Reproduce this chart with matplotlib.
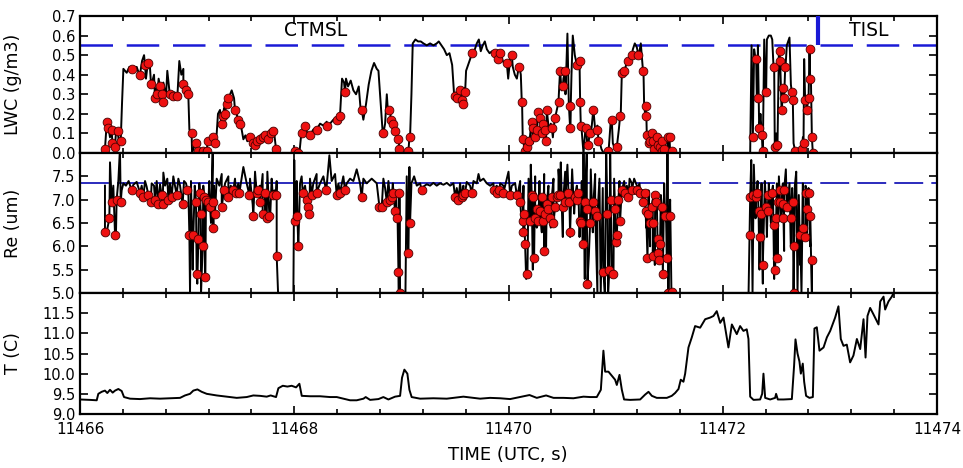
import numpy as np
import matplotlib
matplotlib.use("Agg")
import matplotlib.pyplot as plt
from matplotlib.ticker import MultipleLocator, FormatStrFormatter

plt.rcParams['font.family'] = ['DejaVu Sans']

# ---------------- DATA ----------------
# LWC line (time, g/m3); NaN marks data gaps
lwc_t = [11466.218, 11466.233, 11466.249, 11466.265, 11466.280, 11466.296, 11466.311, 11466.336, 11466.352,
         11466.367, 11466.380, 11466.392, 11466.405, 11466.436, 11466.461, 11466.498, 11466.529, 11466.554,
         11466.579, 11466.598, 11466.616, 11466.635, 11466.653, 11466.672, 11466.691, 11466.710, 11466.734,
         11466.753, 11466.778, 11466.803, 11466.815, 11466.834, 11466.859, 11466.884, 11466.909, 11466.927,
         11466.946, 11466.965, 11466.983, 11467.002, 11467.021, 11467.036, 11467.046, 11467.064, 11467.083,
         11467.105, 11467.136, 11467.167, 11467.192, 11467.220, 11467.245, 11467.260, 11467.276, 11467.288,
         11467.307, 11467.323, 11467.344, 11467.369, 11467.394, 11467.416, 11467.438, 11467.463, 11467.488,
         11467.509, 11467.525, 11467.544, 11467.562, 11467.587, 11467.612, 11467.637, 11467.662, 11467.687,
         11467.712, 11467.736, 11467.761, 11467.786, 11467.811, 11467.836, 11467.855, 11467.920,
         11467.992, 11468.023, 11468.048, 11468.066, 11468.091, 11468.116, 11468.147, 11468.178, 11468.209,
         11468.241, 11468.272, 11468.303, 11468.334, 11468.365, 11468.396, 11468.427, 11468.446, 11468.465,
         11468.483, 11468.502, 11468.527, 11468.552, 11468.577, 11468.602, 11468.620, 11468.645, 11468.670,
         11468.695, 11468.720, 11468.745, 11468.770, 11468.786, 11468.801, 11468.820, 11468.832, 11468.848,
         11468.864, 11468.876, 11468.895, 11468.913, 11468.932, 11468.951, 11468.973, 11468.988, 11469.019,
         11469.057, 11469.075, 11469.094, 11469.106, 11469.131, 11469.156, 11469.181, 11469.206, 11469.237,
         11469.268, 11469.299, 11469.330, 11469.349, 11469.374, 11469.399, 11469.424, 11469.449, 11469.474,
         11469.492, 11469.511, 11469.530, 11469.548, 11469.567, 11469.586, 11469.604, 11469.623, 11469.642,
         11469.661, 11469.686, 11469.704, 11469.723, 11469.741, 11469.760, 11469.779, 11469.798, 11469.823,
         11469.847, 11469.872, 11469.897, 11469.922, 11469.947, 11469.972, 11469.997, 11470.015, 11470.040,
         11470.059, 11470.078, 11470.096, 11470.115, 11470.127, 11470.140, 11470.158, 11470.177, 11470.196,
         11470.214, 11470.227, 11470.246, 11470.264, 11470.283, 11470.302, 11470.320, 11470.339, 11470.358,
         11470.376, 11470.395, 11470.414, 11470.432, 11470.451, 11470.470, 11470.482, 11470.495, 11470.513,
         11470.532, 11470.550, 11470.563, 11470.575, 11470.588, 11470.600, 11470.619, 11470.638, 11470.656,
         11470.669, 11470.681, 11470.700, 11470.718, 11470.737, 11470.756, 11470.774, 11470.793, 11470.812,
         11470.830, 11470.849, 11470.868, 11470.887, 11470.918, 11470.937, 11470.955, 11470.974, 11470.993,
         11471.011, 11471.030, 11471.048, 11471.067, 11471.086, 11471.105, 11471.123, 11471.142, 11471.161,
         11471.179, 11471.198, 11471.217, 11471.235, 11471.254, 11471.266, 11471.279, 11471.291, 11471.310,
         11471.328, 11471.347, 11471.366, 11471.384, 11471.403, 11471.422, 11471.441, 11471.459, 11471.478,
         11471.490, 11471.509, 11471.540, 11471.900,
         11472.241, 11472.256, 11472.269, 11472.281, 11472.293, 11472.306, 11472.318, 11472.328, 11472.340,
         11472.352, 11472.365, 11472.374, 11472.387, 11472.399, 11472.412, 11472.430, 11472.449, 11472.462,
         11472.474, 11472.486, 11472.499, 11472.511, 11472.524, 11472.536, 11472.549, 11472.561, 11472.573,
         11472.586, 11472.598, 11472.611, 11472.623, 11472.636, 11472.648, 11472.661, 11472.679, 11472.698,
         11472.717, 11472.735, 11472.748, 11472.760, 11472.773, 11472.785, 11472.798, 11472.810, 11472.823,
         11472.832, 11472.844]
lwc_v = [0.00, 0.02, 0.15, 0.16, 0.08, 0.13, 0.04, 0.11, 0.10,
         0.04, 0.07, 0.25, 0.43, 0.41, 0.44, 0.42, 0.44, 0.40,
         0.47, 0.50, 0.38, 0.47, 0.44, 0.36, 0.40, 0.33, 0.38,
         0.31, 0.36, 0.29, 0.42, 0.32, 0.30, 0.31, 0.29, 0.47,
         0.40, 0.43, 0.34, 0.32, 0.12, 0.10, 0.00, 0.03, 0.06,
         0.01, 0.02, 0.00, 0.06, 0.08, 0.09, 0.05, 0.10, 0.20,
         0.22, 0.14, 0.23, 0.26, 0.29, 0.32, 0.28, 0.20, 0.16,
         0.12, 0.07, 0.09, 0.06, 0.08, 0.04, 0.07, 0.05, 0.08,
         0.10, 0.07, 0.10, 0.12, 0.11, 0.02, 0.00, np.nan,
         0.00, 0.01, 0.00, 0.10, 0.09, 0.11, 0.08, 0.12, 0.13,
         0.15, 0.14, 0.16, 0.15, 0.17, 0.18, 0.20, 0.38, 0.36,
         0.38, 0.34, 0.37, 0.32, 0.30, 0.34, 0.22, 0.17, 0.25,
         0.35, 0.42, 0.46, 0.43, 0.42, 0.30, 0.14, 0.10, 0.15,
         0.30, 0.20, 0.22, 0.17, 0.14, 0.11, 0.07, 0.02, 0.00,
         0.00, 0.08, 0.30, 0.56, 0.58, 0.57, 0.57, 0.56, 0.55,
         0.56, 0.55, 0.56, 0.57, 0.55, 0.53, 0.50, 0.51, 0.45,
         0.30, 0.31, 0.27, 0.32, 0.26, 0.33, 0.42, 0.45, 0.48,
         0.50, 0.53, 0.56, 0.58, 0.52, 0.55, 0.57, 0.53, 0.51,
         0.52, 0.50, 0.49, 0.48, 0.47, 0.45, 0.38, 0.48, 0.44,
         0.40, 0.38, 0.44, 0.40, 0.25, 0.05, 0.00, 0.03, 0.08,
         0.16, 0.05, 0.14, 0.08, 0.22, 0.10, 0.17, 0.06, 0.23,
         0.12, 0.15, 0.08, 0.18, 0.22, 0.30, 0.43, 0.32, 0.38,
         0.30, 0.61, 0.25, 0.13, 0.40, 0.60, 0.50, 0.45, 0.47,
         0.25, 0.13, 0.00, 0.12, 0.03, 0.10, 0.12, 0.23, 0.10,
         0.14, 0.06, 0.02, 0.00, 0.00, 0.03, 0.17, 0.05, 0.02,
         0.03, 0.12, 0.20, 0.42, 0.43, 0.46, 0.48, 0.51, 0.53,
         0.56, 0.54, 0.50, 0.56, 0.43, 0.25, 0.18, 0.10, 0.05,
         0.10, 0.03, 0.08, 0.02, 0.07, 0.01, 0.05, 0.02, 0.08,
         0.03, 0.00, 0.00, np.nan,
         0.00, 0.00, 0.55, 0.08, 0.53, 0.48, 0.28, 0.55, 0.13,
         0.20, 0.09, 0.00, 0.58, 0.31, 0.58, 0.60, 0.60, 0.58,
         0.44, 0.02, 0.10, 0.03, 0.52, 0.47, 0.22, 0.33, 0.28,
         0.44, 0.55, 0.57, 0.59, 0.35, 0.27, 0.05, 0.00, 0.00,
         0.02, 0.04, 0.08, 0.48, 0.27, 0.22, 0.28, 0.53, 0.38,
         0.08, 0.00]

# LWC sampled points (red markers)
lwc_mt = [11466.233, 11466.255, 11466.265, 11466.296, 11466.302, 11466.327, 11466.352, 11466.380,
          11466.482, 11466.560, 11466.607, 11466.638, 11466.663, 11466.700, 11466.722, 11466.747, 11466.762,
          11466.772, 11466.840, 11466.871, 11466.902, 11466.965, 11466.990, 11467.011, 11467.042, 11467.083,
          11467.105, 11467.151, 11467.183, 11467.192, 11467.239, 11467.260, 11467.323, 11467.338, 11467.354,
          11467.369, 11467.385, 11467.447, 11467.472, 11467.494, 11467.587, 11467.612, 11467.634, 11467.649,
          11467.680, 11467.705, 11467.727, 11467.758, 11467.780, 11467.805, 11467.830, 11468.007, 11468.038,
          11468.069, 11468.101, 11468.147, 11468.209, 11468.303, 11468.396, 11468.427, 11468.474, 11468.630,
          11468.826, 11468.888, 11468.901, 11468.926, 11468.941, 11468.973, 11468.982, 11469.066, 11469.081,
          11469.502, 11469.523, 11469.548, 11469.564, 11469.573, 11469.595, 11469.657, 11469.875, 11469.906,
          11469.922, 11469.984, 11470.031, 11470.102, 11470.124, 11470.133,
          11470.155, 11470.177, 11470.196, 11470.218, 11470.233, 11470.249, 11470.264, 11470.280, 11470.296,
          11470.311, 11470.320, 11470.342, 11470.351, 11470.358, 11470.404, 11470.435, 11470.467, 11470.482,
          11470.507, 11470.529, 11470.575, 11470.576, 11470.638, 11470.663, 11470.669, 11470.675, 11470.725,
          11470.746, 11470.762, 11470.793, 11470.824, 11470.840, 11470.933, 11470.964, 11471.011, 11471.042,
          11471.058, 11471.080, 11471.120, 11471.151, 11471.213, 11471.260, 11471.279, 11471.285, 11471.291,
          11471.316, 11471.322, 11471.338, 11471.353, 11471.360, 11471.384, 11471.400, 11471.410, 11471.431,
          11471.432, 11471.447, 11471.488, 11471.503, 11471.525,
          11472.281, 11472.312, 11472.325, 11472.343, 11472.365, 11472.374, 11472.405, 11472.480, 11472.489,
          11472.511, 11472.530, 11472.536, 11472.552, 11472.561, 11472.573, 11472.583, 11472.645, 11472.654,
          11472.676, 11472.738, 11472.754, 11472.769, 11472.785, 11472.801, 11472.810, 11472.816, 11472.832,
          11472.841]
lwc_mv = [0.02, 0.16, 0.13, 0.12, 0.05, 0.03, 0.11, 0.06,
          0.43, 0.40, 0.45, 0.46, 0.35, 0.28, 0.30, 0.34, 0.30,
          0.26, 0.30, 0.29, 0.29, 0.35, 0.32, 0.30, 0.10, 0.05,
          0.01, 0.01, 0.01, 0.06, 0.08, 0.05, 0.15, 0.19, 0.20,
          0.25, 0.28, 0.22, 0.17, 0.15, 0.08, 0.05, 0.04, 0.06,
          0.07, 0.08, 0.09, 0.07, 0.10, 0.11, 0.02, 0.01, 0.00,
          0.10, 0.14, 0.09, 0.12, 0.14, 0.17, 0.19, 0.31, 0.22,
          0.10, 0.22, 0.17, 0.15, 0.11, 0.07, 0.02, 0.01, 0.08,
          0.29, 0.28, 0.32, 0.27, 0.25, 0.31, 0.51, 0.51, 0.48,
          0.51, 0.46, 0.50, 0.44, 0.26, 0.07,
          0.01, 0.03, 0.06, 0.16, 0.13, 0.08, 0.12, 0.21, 0.18,
          0.10, 0.15, 0.12, 0.06, 0.22, 0.13, 0.18, 0.26, 0.42,
          0.34, 0.42, 0.24, 0.13, 0.45, 0.47, 0.26, 0.14, 0.13,
          0.04, 0.10, 0.22, 0.12, 0.06, 0.01, 0.17, 0.03, 0.19,
          0.41, 0.42, 0.47, 0.50, 0.50, 0.42, 0.19, 0.24, 0.09,
          0.05, 0.06, 0.10, 0.06, 0.02, 0.08, 0.04, 0.03, 0.06,
          0.01, 0.02, 0.08, 0.08, 0.01,
          0.08, 0.48, 0.28, 0.13, 0.09, 0.01, 0.31, 0.44, 0.03,
          0.04, 0.52, 0.47, 0.22, 0.33, 0.28, 0.44, 0.31, 0.27,
          0.01, 0.02, 0.05, 0.27, 0.22, 0.28, 0.53, 0.38, 0.08,
          0.00]

# Re line-only points (um); NaN marks gaps
re_t = [11466.233, 11466.249, 11466.280, 11466.311, 11466.336, 11466.358, 11466.373, 11466.389,
        11466.405, 11466.429, 11466.454, 11466.498, 11466.529, 11466.576, 11466.607, 11466.622, 11466.669,
        11466.691, 11466.716, 11466.747, 11466.778, 11466.794, 11466.815, 11466.840, 11466.871, 11466.887,
        11466.918, 11466.934, 11466.971, 11466.990, 11467.011, 11467.027, 11467.036, 11467.052, 11467.071,
        11467.095, 11467.114, 11467.130, 11467.151, 11467.170, 11467.189, 11467.207, 11467.223, 11467.239,
        11467.251, 11467.276, 11467.301, 11467.323, 11467.354, 11467.385, 11467.407, 11467.447, 11467.478,
        11467.525, 11467.556, 11467.587, 11467.612, 11467.634, 11467.680, 11467.705, 11467.727, 11467.749,
        11467.774, 11467.789, 11467.814, 11467.836, 11467.849, 11467.858, 11467.920,
        11467.992, 11468.000, 11468.010, 11468.023, 11468.038, 11468.054, 11468.069, 11468.101, 11468.147,
        11468.178, 11468.209, 11468.241, 11468.272, 11468.303, 11468.328, 11468.349, 11468.381, 11468.412,
        11468.458, 11468.490, 11468.521, 11468.552, 11468.583, 11468.614, 11468.645, 11468.676, 11468.723,
        11468.770, 11468.832, 11468.848, 11468.879, 11468.901, 11468.920, 11468.951, 11468.963, 11468.976,
        11468.994, 11469.013, 11469.038, 11469.050, 11469.063, 11469.075, 11469.094, 11469.119, 11469.144,
        11469.175, 11469.206, 11469.237, 11469.268, 11469.299, 11469.330, 11469.361, 11469.393, 11469.424,
        11469.455, 11469.486, 11469.517, 11469.548, 11469.579, 11469.610, 11469.641, 11469.673, 11469.704,
        11469.720, 11469.735, 11469.766, 11469.797, 11469.828, 11469.860, 11469.891, 11469.922, 11469.953,
        11469.984, 11470.000, 11470.031, 11470.062, 11470.093, 11470.109, 11470.124, 11470.140, 11470.165,
        11470.187, 11470.208, 11470.227, 11470.249, 11470.264, 11470.289, 11470.311, 11470.333, 11470.351,
        11470.373, 11470.395, 11470.420, 11470.445, 11470.467, 11470.488, 11470.507, 11470.529, 11470.550,
        11470.575, 11470.594, 11470.613, 11470.638, 11470.663, 11470.684, 11470.700, 11470.712, 11470.731,
        11470.750, 11470.768, 11470.787, 11470.809, 11470.830, 11470.849, 11470.861, 11470.880, 11470.899,
        11470.912, 11470.930, 11470.949, 11470.965, 11470.986, 11471.011, 11471.036, 11471.058, 11471.080,
        11471.105, 11471.130, 11471.151, 11471.173, 11471.198, 11471.223, 11471.245, 11471.260, 11471.285,
        11471.307, 11471.322, 11471.347, 11471.366, 11471.385, 11471.403, 11471.422, 11471.441, 11471.453,
        11471.472, 11471.484, 11471.497, 11471.509, 11471.521, 11471.528, 11471.900,
        11472.241, 11472.266, 11472.278, 11472.290, 11472.306, 11472.325, 11472.343, 11472.362, 11472.374,
        11472.393, 11472.412, 11472.430, 11472.449, 11472.468, 11472.480, 11472.505, 11472.524, 11472.542,
        11472.561, 11472.573, 11472.589, 11472.605, 11472.623, 11472.636, 11472.648, 11472.661, 11472.673,
        11472.686, 11472.698, 11472.710, 11472.723, 11472.735, 11472.748, 11472.760, 11472.773, 11472.785,
        11472.801, 11472.816, 11472.832]
re_v = [7.30, 6.30, 7.80, 7.30, 6.30, 7.40, 8.10, 7.20,
        7.35, 7.30, 7.40, 7.32, 7.38, 7.30, 7.40, 7.28, 7.35,
        7.30, 7.40, 7.33, 7.58, 7.30, 7.45, 7.35, 7.50, 7.30,
        7.45, 7.30, 7.40, 7.35, 7.20, 5.00, 7.40, 5.50, 7.30,
        5.20, 7.35, 5.00, 7.30, 5.30, 7.10, 7.40, 6.50, 8.10,
        7.30, 7.45, 7.30, 7.55, 7.35, 7.50, 7.30, 7.45, 7.35,
        7.70, 7.35, 7.45, 6.90, 7.60, 7.30, 7.55, 6.60, 7.60,
        6.55, 7.45, 7.20, 7.40, 5.00, 5.00, np.nan,
        5.00, 7.85, 6.50, 7.40, 6.00, 7.35, 7.50, 7.30, 7.45,
        7.35, 7.55, 7.35, 7.50, 7.30, 7.95, 7.40, 7.55, 7.35,
        7.50, 7.35, 7.45, 7.40, 7.65, 7.35, 7.45, 7.35, 7.45,
        7.35, 7.45, 7.25, 7.40, 7.20, 7.35, 7.20, 6.80, 5.00,
        5.00, 5.00, 5.00, 7.50, 5.85, 7.70, 7.35, 7.50, 7.30,
        7.35, 7.28, 7.33, 7.30, 7.36, 7.30, 7.35, 7.32, 7.36,
        7.30, 7.35, 7.25, 7.35, 7.30, 7.38, 7.30, 7.40, 7.35,
        7.55, 7.40, 7.45, 7.35, 7.30, 7.35, 7.30, 7.35, 7.30,
        7.45, 7.60, 7.30, 7.35, 7.20, 7.40, 6.50, 7.30, 5.30,
        7.45, 7.75, 5.50, 7.50, 6.40, 7.40, 6.30, 7.55, 6.00,
        7.30, 6.40, 7.45, 6.80, 7.65, 7.80, 6.20, 7.60, 7.75,
        6.20, 7.65, 6.70, 7.30, 6.20, 7.40, 8.10, 5.30, 8.10,
        5.80, 7.65, 6.30, 7.55, 5.00, 7.45, 5.00, 7.25, 5.00,
        8.10, 5.00, 8.10, 5.50, 7.45, 6.00, 7.40, 7.25, 7.40,
        7.30, 7.45, 7.35, 7.45, 7.30, 7.35, 7.20, 7.10, 6.40,
        7.20, 6.00, 7.00, 5.60, 6.90, 5.80, 7.10, 5.40, 7.35,
        6.50, 8.10, 5.80, 7.00, 5.00, 5.00, np.nan,
        5.00, 7.85, 5.00, 7.75, 6.60, 7.40, 5.50, 7.35, 5.20,
        7.40, 6.20, 7.35, 6.50, 7.30, 5.30, 7.35, 7.50, 6.60,
        7.35, 5.90, 7.65, 6.90, 7.35, 6.00, 7.25, 5.00, 7.30,
        7.60, 5.00, 7.10, 5.60, 5.00, 7.35, 6.20, 7.30, 6.30,
        7.25, 6.00, 5.00]

# Re sampled points (red markers)
re_mt = [11466.233, 11466.274, 11466.296, 11466.327, 11466.342, 11466.380,
         11466.482, 11466.560, 11466.591, 11466.638, 11466.660, 11466.700, 11466.731, 11466.762, 11466.772,
         11466.825, 11466.856, 11466.902, 11466.958, 11467.002,
         11467.021, 11467.058, 11467.083, 11467.089, 11467.105, 11467.120, 11467.127, 11467.145, 11467.158,
         11467.167, 11467.176, 11467.198, 11467.214, 11467.239, 11467.245, 11467.260, 11467.323,
         11467.344, 11467.385, 11467.431, 11467.456, 11467.488, 11467.581, 11467.618, 11467.649, 11467.665,
         11467.680, 11467.705, 11467.727, 11467.743, 11467.768, 11467.799, 11467.830, 11467.836,
         11468.007, 11468.029, 11468.038, 11468.079, 11468.116, 11468.132, 11468.141, 11468.163, 11468.209,
         11468.297, 11468.396, 11468.427, 11468.474, 11468.630, 11468.795,
         11468.817, 11468.864, 11468.895, 11468.910, 11468.926, 11468.941, 11468.957, 11468.973, 11468.982,
         11468.988, 11469.066, 11469.081, 11469.190, 11469.502, 11469.533, 11469.564, 11469.579, 11469.595,
         11469.657, 11469.860, 11469.891, 11469.915, 11469.953, 11470.015, 11470.077, 11470.109, 11470.133,
         11470.140, 11470.146, 11470.155, 11470.177, 11470.202, 11470.217, 11470.233, 11470.239, 11470.249,
         11470.264, 11470.280, 11470.295, 11470.311, 11470.326, 11470.333, 11470.342, 11470.357, 11470.373,
         11470.388, 11470.404, 11470.420, 11470.435, 11470.451, 11470.466, 11470.482, 11470.507, 11470.529,
         11470.560, 11470.569, 11470.575, 11470.622, 11470.638, 11470.653, 11470.669, 11470.675, 11470.693,
         11470.715, 11470.731, 11470.737, 11470.762, 11470.793, 11470.809, 11470.830, 11470.886, 11470.924,
         11470.942, 11470.955, 11470.980, 11470.995, 11471.005, 11471.011, 11471.026, 11471.042, 11471.058,
         11471.089, 11471.120, 11471.151, 11471.198, 11471.229, 11471.254, 11471.275, 11471.285, 11471.297,
         11471.306, 11471.322, 11471.338, 11471.347, 11471.353, 11471.369, 11471.378, 11471.391, 11471.400,
         11471.409, 11471.415, 11471.431, 11471.440, 11471.462, 11471.478, 11471.493, 11471.503, 11471.525,
         11472.250, 11472.256, 11472.287, 11472.312, 11472.318, 11472.334, 11472.349, 11472.356, 11472.374,
         11472.405, 11472.418, 11472.427, 11472.458, 11472.480, 11472.489, 11472.499, 11472.511, 11472.520,
         11472.530, 11472.536, 11472.561, 11472.567, 11472.573, 11472.598, 11472.636, 11472.654, 11472.661,
         11472.667, 11472.723, 11472.748, 11472.769, 11472.779, 11472.785, 11472.801, 11472.816, 11472.832]
re_mv = [6.30, 6.60, 6.95, 6.25, 7.00, 6.95,
         7.20, 7.15, 7.05, 7.10, 6.95, 7.00, 6.90, 7.10, 6.90,
         7.00, 7.05, 7.10, 6.90, 7.20,
         6.25, 6.25, 6.95, 5.40, 6.15, 7.15, 6.70, 6.00, 7.05,
         5.35, 7.00, 6.95, 6.85, 6.95, 6.40, 6.70, 6.85,
         7.20, 7.05, 7.20, 7.15, 7.15, 7.10, 6.65, 7.15, 7.20,
         6.95, 6.70, 7.15, 6.60, 6.65, 7.10, 7.10, 5.80,
         6.55, 6.65, 6.00, 7.15, 7.00, 6.85, 6.70, 7.10, 7.15,
         7.20, 7.10, 7.15, 7.20, 7.05, 6.85,
         6.85, 6.95, 7.00, 7.05, 7.15, 6.75, 6.60, 5.45, 7.15,
         5.00, 5.85, 6.50, 7.20, 7.05, 7.00, 7.05, 7.10, 7.15,
         7.15, 7.20, 7.15, 7.20, 7.15, 7.10, 7.10, 6.95, 6.55,
         6.30, 6.70, 6.05, 5.40, 6.55, 7.10, 7.05, 5.75, 6.60,
         6.80, 6.55, 6.75, 7.05, 6.55, 5.90, 6.70, 6.90, 6.80,
         6.60, 7.05, 6.50, 6.85, 7.05, 7.10, 7.10, 6.85, 6.95,
         7.15, 6.95, 6.30, 7.05, 7.00, 7.15, 6.55, 6.50, 6.05,
         6.95, 6.80, 5.20, 6.50, 6.95, 6.75, 6.65, 5.45, 6.70,
         5.50, 7.00, 5.40, 6.80, 6.10, 6.25, 7.00, 6.55, 7.20,
         7.15, 7.05, 7.20, 7.20, 7.15, 6.95, 7.15, 6.75, 5.75,
         6.70, 6.50, 6.85, 5.80, 6.50, 7.10, 6.95, 6.15, 5.85,
         5.70, 6.05, 6.85, 5.40, 6.65, 5.75, 5.00, 6.65, 5.02,
         6.25, 7.05, 7.10, 7.05, 7.15, 6.75, 6.20, 6.70, 5.60,
         6.85, 6.75, 7.10, 7.15, 6.45, 5.50, 6.60, 5.75, 6.95,
         7.20, 6.95, 6.90, 6.60, 7.20, 6.85, 6.60, 6.95, 5.00,
         6.00, 6.25, 6.40, 6.20, 7.15, 6.80, 7.15, 6.65, 5.70]

# Temperature (C)
temp_t = [11466.000, 11466.093, 11466.156, 11466.171, 11466.202, 11466.233, 11466.255, 11466.280, 11466.305,
          11466.327, 11466.358, 11466.389, 11466.411, 11466.467, 11466.560, 11466.654, 11466.747, 11466.840,
          11466.934, 11466.980, 11467.027, 11467.058, 11467.096, 11467.136, 11467.183, 11467.276, 11467.369,
          11467.463, 11467.556, 11467.618, 11467.681, 11467.743, 11467.780, 11467.830, 11467.852, 11467.893,
          11467.936, 11467.976, 11468.017, 11468.048, 11468.070, 11468.148, 11468.241, 11468.334, 11468.397,
          11468.459, 11468.521, 11468.583, 11468.646, 11468.667, 11468.708, 11468.786, 11468.832, 11468.879,
          11468.941, 11468.988, 11469.006, 11469.028, 11469.056, 11469.075, 11469.096, 11469.175, 11469.299,
          11469.424, 11469.517, 11469.579, 11469.673, 11469.735, 11469.828, 11469.922, 11470.015, 11470.108,
          11470.196, 11470.264, 11470.351, 11470.420, 11470.513, 11470.606, 11470.700, 11470.762, 11470.824,
          11470.862, 11470.886, 11470.902, 11470.933, 11470.964, 11470.995, 11471.011, 11471.036, 11471.058,
          11471.079, 11471.135, 11471.229, 11471.275, 11471.307, 11471.338, 11471.384, 11471.478, 11471.524,
          11471.555, 11471.587, 11471.608, 11471.633, 11471.649, 11471.680, 11471.711, 11471.742, 11471.789,
          11471.836, 11471.882, 11471.913, 11471.944, 11471.976, 11472.007, 11472.053, 11472.085, 11472.131,
          11472.162, 11472.193, 11472.224, 11472.240, 11472.256, 11472.287, 11472.349, 11472.368, 11472.380,
          11472.396, 11472.443, 11472.489, 11472.498, 11472.514, 11472.567, 11472.645, 11472.666, 11472.679,
          11472.698, 11472.716, 11472.729, 11472.747, 11472.760, 11472.778, 11472.809, 11472.841, 11472.856,
          11472.878, 11472.903, 11472.941, 11472.972, 11473.003, 11473.049, 11473.080, 11473.102, 11473.127,
          11473.158, 11473.189, 11473.220, 11473.252, 11473.283, 11473.314, 11473.333, 11473.351, 11473.376,
          11473.407, 11473.454, 11473.470, 11473.501, 11473.516, 11473.547, 11473.578, 11473.594]
temp_v = [9.36, 9.35, 9.34, 9.50, 9.55, 9.58, 9.52, 9.60, 9.53,
          9.58, 9.62, 9.57, 9.42, 9.38, 9.37, 9.39, 9.38, 9.39,
          9.40, 9.46, 9.50, 9.58, 9.61, 9.55, 9.50, 9.46, 9.43,
          9.40, 9.42, 9.46, 9.45, 9.43, 9.46, 9.42, 9.64, 9.70,
          9.68, 9.70, 9.66, 9.75, 9.45, 9.44, 9.44, 9.42, 9.42,
          9.38, 9.34, 9.34, 9.38, 9.42, 9.35, 9.37, 9.42, 9.36,
          9.43, 9.45, 9.90, 10.10, 10.00, 9.60, 9.42, 9.38, 9.39,
          9.38, 9.41, 9.43, 9.40, 9.38, 9.40, 9.39, 9.37, 9.42,
          9.47, 9.40, 9.46, 9.40, 9.40, 9.39, 9.43, 9.42, 9.42,
          9.60, 10.57, 10.05, 10.05, 9.95, 9.85, 9.72, 9.97, 9.60,
          9.36, 9.35, 9.36, 9.48, 9.55, 9.45, 9.40, 9.40, 9.45,
          9.52, 9.62, 9.85, 9.80, 10.00, 10.65, 10.90, 11.18, 11.14,
          11.35, 11.39, 11.43, 11.55, 11.26, 11.39, 10.65, 11.22, 10.98,
          11.18, 11.06, 11.10, 10.86, 9.43, 9.35, 9.36, 9.50, 10.00,
          9.40, 9.36, 9.40, 9.50, 9.36, 9.36, 9.37, 10.20, 10.85,
          10.50, 10.30, 10.00, 10.25, 9.80, 9.45, 9.40, 9.42, 11.12,
          11.15, 10.57, 10.65, 10.90, 11.06, 11.39, 11.67, 10.86, 10.69,
          10.72, 10.28, 10.45, 10.86, 10.61, 11.35, 10.40, 11.43, 11.63,
          11.47, 11.22, 11.79, 11.91, 11.59, 11.79, 11.91, 12.00]

# reference values / annotations
lwc_ref = 0.55
re_ref = 7.35
regime_split = 11472.89
regime_labels = ["CTMSL", "TISL"]
regime_label_x = [11468.2, 11473.36]

# ---------------- PLOT ----------------
def merged(t1, v1, t2, v2):
    t = np.concatenate([np.asarray(t1, float), np.asarray(t2, float)])
    v = np.concatenate([np.asarray(v1, float), np.asarray(v2, float)])
    o = np.argsort(t, kind="stable")
    return t[o], v[o]

W, H = 963, 468
fig = plt.figure(figsize=(W / 100, H / 100), dpi=100)
L, R = 80 / W, 937 / W
ax1 = fig.add_axes([L, 1 - 153 / H, R - L, 137 / H])
ax2 = fig.add_axes([L, 1 - 293 / H, R - L, 140 / H], sharex=ax1)
ax3 = fig.add_axes([L, 1 - 414 / H, R - L, 121 / H], sharex=ax1)

blue = '#1a1ad6'
red = '#ee1111'
dash = (13, 5.5)

# top: LWC
lt, lv = merged(lwc_t, lwc_v, lwc_mt, lwc_mv)
ax1.axhline(lwc_ref, color=blue, lw=1.8, dashes=dash, zorder=1)
ax1.plot(lt, lv, color='black', lw=1.4, zorder=2)
ax1.plot(lwc_mt, lwc_mv, 'o', ms=6.3, mfc=red, mec='#4a0000', mew=0.6, zorder=3)
ax1.plot([regime_split, regime_split], [lwc_ref, 0.7], color=blue, lw=3, zorder=4, solid_capstyle='butt')
ax1.text(regime_label_x[0], 0.625, regime_labels[0], ha='center', va='center', fontsize=13.5)
ax1.text(regime_label_x[1], 0.625, regime_labels[1], ha='center', va='center', fontsize=13.5)
ax1.set_ylim(0, 0.7)
ax1.yaxis.set_major_locator(MultipleLocator(0.1))
ax1.yaxis.set_major_formatter(FormatStrFormatter('%.1f'))
ax1.set_ylabel('LWC (g/m3)', fontsize=12.5)

# middle: Re
rt, rv = merged(re_t, re_v, re_mt, re_mv)
ax2.axhline(re_ref, color='#1a1ab8', lw=1.3, dashes=(16, 4.5), zorder=1)
ax2.plot(rt, rv, color='black', lw=1.4, zorder=2)
ax2.plot(re_mt, re_mv, 'o', ms=6.3, mfc=red, mec='#4a0000', mew=0.6, zorder=3)
ax2.set_ylim(5.0, 8.0)
ax2.set_yticks([5.0, 5.5, 6.0, 6.5, 7.0, 7.5, 8.0])
ax2.set_yticklabels(['5.0', '5.5', '6.0', '6.5', '7.0', '7.5', ''])
ax2.set_ylabel('Re (um)', fontsize=12.5)

# bottom: T
ax3.plot(temp_t, temp_v, color='black', lw=1.4)
ax3.set_ylim(9.0, 12.0)
ax3.set_yticks([9.0, 9.5, 10.0, 10.5, 11.0, 11.5, 12.0])
ax3.set_yticklabels(['9.0', '9.5', '10.0', '10.5', '11.0', '11.5', ''])
ax3.set_ylabel('T (C)', fontsize=12.5)

ax3.set_xlim(11466, 11474)
ax3.xaxis.set_major_locator(MultipleLocator(2))
ax3.xaxis.set_minor_locator(MultipleLocator(0.4))
ax3.xaxis.set_major_formatter(FormatStrFormatter('%d'))

for ax in (ax1, ax2, ax3):
    for s in ax.spines.values():
        s.set_linewidth(1.6)
    ax.tick_params(which='both', direction='in', top=True, right=True, width=1.2, labelsize=10.5)
    ax.tick_params(which='major', length=6)
    ax.tick_params(which='minor', length=3.5)
    ax.yaxis.set_label_coords(-0.068, 0.5)
for ax in (ax1, ax2):
    ax.tick_params(labelbottom=False)
ax3.tick_params(axis='x', pad=6, labelsize=11)

fig.text(0.527, 1 - 455 / H, 'TIME (UTC, s)', ha='center', va='center', fontsize=13)

fig.savefig('out.png', dpi=100)
